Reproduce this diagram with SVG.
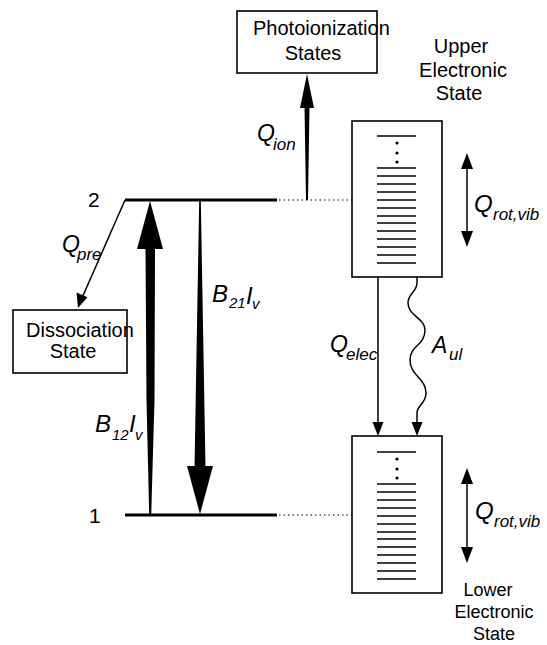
<svg xmlns="http://www.w3.org/2000/svg" width="547" height="645" viewBox="0 0 547 645">
<style>
text{font-family:"Liberation Sans",Arial,sans-serif;fill:#000}
.lbl{font-size:20px}
.sm{font-size:18px}
.it{font-style:italic}
.Q{font-size:23px;font-style:italic}
.sub{font-size:17px;font-style:italic}
.bsub{font-size:15px;font-style:italic}
.box{fill:#fff;stroke:#000;stroke-width:1.6}
.lev{stroke:#000;stroke-width:3;fill:none}
.dot{stroke:#000;stroke-width:1.2;stroke-dasharray:1.5 3;fill:none}
.ln{stroke:#000;stroke-width:1.5;fill:none}
.sl{stroke:#000;stroke-width:1.3}
.f{fill:#000;stroke:none}
</style>
<defs>
<g id="levels">
<line class="sl" x1="377" y1="0" x2="416" y2="0"/>
<circle class="f" cx="397" cy="7" r="1.6"/>
<circle class="f" cx="397" cy="17" r="1.6"/>
<circle class="f" cx="397" cy="26" r="1.6"/>
<line class="sl" x1="377" y1="32" x2="416" y2="32"/>
<line class="sl" x1="377" y1="40" x2="416" y2="40"/>
<line class="sl" x1="377" y1="48" x2="416" y2="48"/>
<line class="sl" x1="377" y1="56" x2="416" y2="56"/>
<line class="sl" x1="377" y1="64" x2="416" y2="64"/>
<line class="sl" x1="377" y1="72" x2="416" y2="72"/>
<line class="sl" x1="377" y1="80" x2="416" y2="80"/>
<line class="sl" x1="377" y1="87" x2="416" y2="87"/>
<line class="sl" x1="377" y1="95" x2="416" y2="95"/>
<line class="sl" x1="377" y1="103" x2="416" y2="103"/>
<line class="sl" x1="377" y1="111" x2="416" y2="111"/>
<line class="sl" x1="377" y1="119" x2="416" y2="119"/>
<line class="sl" x1="377" y1="127" x2="416" y2="127"/>
</g>
</defs>

<g id="photoionization">
<rect class="box" x="237" y="11" width="140" height="62"/>
<text class="lbl" x="253" y="35">Photoionization</text>
<text class="lbl" x="313" y="60" text-anchor="middle">States</text>
</g>

<g id="upper-state">
<rect class="box" x="352" y="121" width="90" height="156"/>
<use href="#levels" y="136"/>
<text class="lbl" x="461" y="53" text-anchor="middle">Upper</text>
<text class="lbl" x="463" y="77" text-anchor="middle">Electronic</text>
<text class="lbl" x="459" y="100" text-anchor="middle">State</text>
</g>

<g id="lower-state">
<rect class="box" x="352" y="436" width="90" height="157"/>
<use href="#levels" y="452"/>
<text class="sm" x="488" y="596" text-anchor="middle">Lower</text>
<text class="sm" x="494" y="618" text-anchor="middle">Electronic</text>
<text class="sm" x="494" y="640" text-anchor="middle">State</text>
</g>

<g id="dissociation">
<rect class="box" x="13" y="310" width="114" height="63"/>
<text class="lbl" x="26" y="337">Dissociation</text>
<text class="lbl" x="73" y="358" text-anchor="middle">State</text>
</g>

<g id="level2">
<line class="lev" x1="125" y1="200" x2="277" y2="200"/>
<line class="dot" x1="279" y1="200" x2="352" y2="200"/>
<text x="88" y="207" style="font-size:21px">2</text>
</g>

<g id="level1">
<line class="lev" x1="125" y1="515" x2="277" y2="515"/>
<line class="dot" x1="279" y1="515" x2="352" y2="515"/>
<text x="89" y="523" style="font-size:21px">1</text>
</g>

<g id="connectors">
<!-- Q_ion -->
<polygon class="f" points="306,200 308,200 309.5,107 304.5,107"/>
<polygon class="f" points="307,74 314,108 300,108"/>
<text class="Q" x="257" y="141">Q</text><text class="sub" x="273" y="150">ion</text>

<!-- Q_pre -->
<line class="ln" x1="125" y1="200" x2="82" y2="298"/>
<polygon class="f" points="78,308 76.5,292.5 87.5,297.3"/>
<text class="Q" x="62" y="252">Q</text><text class="sub" x="77" y="260">pre</text>

<!-- B12 Iv up -->
<polygon class="f" points="145.5,247 155,247 154.5,400 151.2,515 149.2,515 146.5,400"/>
<polygon class="f" points="150,201 163,249 137,249"/>
<text class="it" x="95" y="432" style="font-size:24px">B</text>
<text class="bsub" x="112" y="440">12</text>
<text class="it" x="129" y="432" style="font-size:24px">I</text>
<text class="bsub" x="135" y="440">v</text>

<!-- B21 Iv down -->
<polygon class="f" points="199.2,200 200.8,200 205.5,468 194.5,468"/>
<polygon class="f" points="200,514 213,466 187,466"/>
<text class="it" x="212" y="302" style="font-size:24px">B</text>
<text class="bsub" x="229" y="308">21</text>
<text class="it" x="246" y="304" style="font-size:24px">I</text>
<text class="bsub" x="252" y="309">v</text>

<!-- Q_elec -->
<line class="ln" x1="378" y1="277" x2="378" y2="424"/>
<polygon class="f" points="378,436 372.5,422 383.5,422"/>
<text class="Q" x="330" y="352">Q</text><text class="sub" x="346" y="360">elec</text>

<!-- A_ul -->
<path class="ln" d="M417,277 L417,283 C417,292 408,293 408,303 C408,316 425,318 425,330 C425,346 410,345 410,360 C410,376 426,378 426,393 C426,404 417,405 417,413 L417,424"/>
<polygon class="f" points="417,436 411.5,422 422.5,422"/>
<text class="Q" x="432" y="353">A</text><text class="sub" x="449" y="360">ul</text>

<!-- Q_rot,vib upper -->
<line class="ln" x1="467" y1="165" x2="467" y2="235"/>
<polygon class="f" points="467,153 473,169 461,169"/>
<polygon class="f" points="467,247 473,231 461,231"/>
<text class="Q" x="474" y="212" style="font-size:24px">Q</text><text class="sub" x="493" y="220">rot,vib</text>

<!-- Q_rot,vib lower -->
<line class="ln" x1="467" y1="480" x2="467" y2="551"/>
<polygon class="f" points="467,468 473,484 461,484"/>
<polygon class="f" points="467,563 473,547 461,547"/>
<text class="Q" x="475" y="519" style="font-size:24px">Q</text><text class="sub" x="494" y="527">rot,vib</text>
</g>
</svg>
